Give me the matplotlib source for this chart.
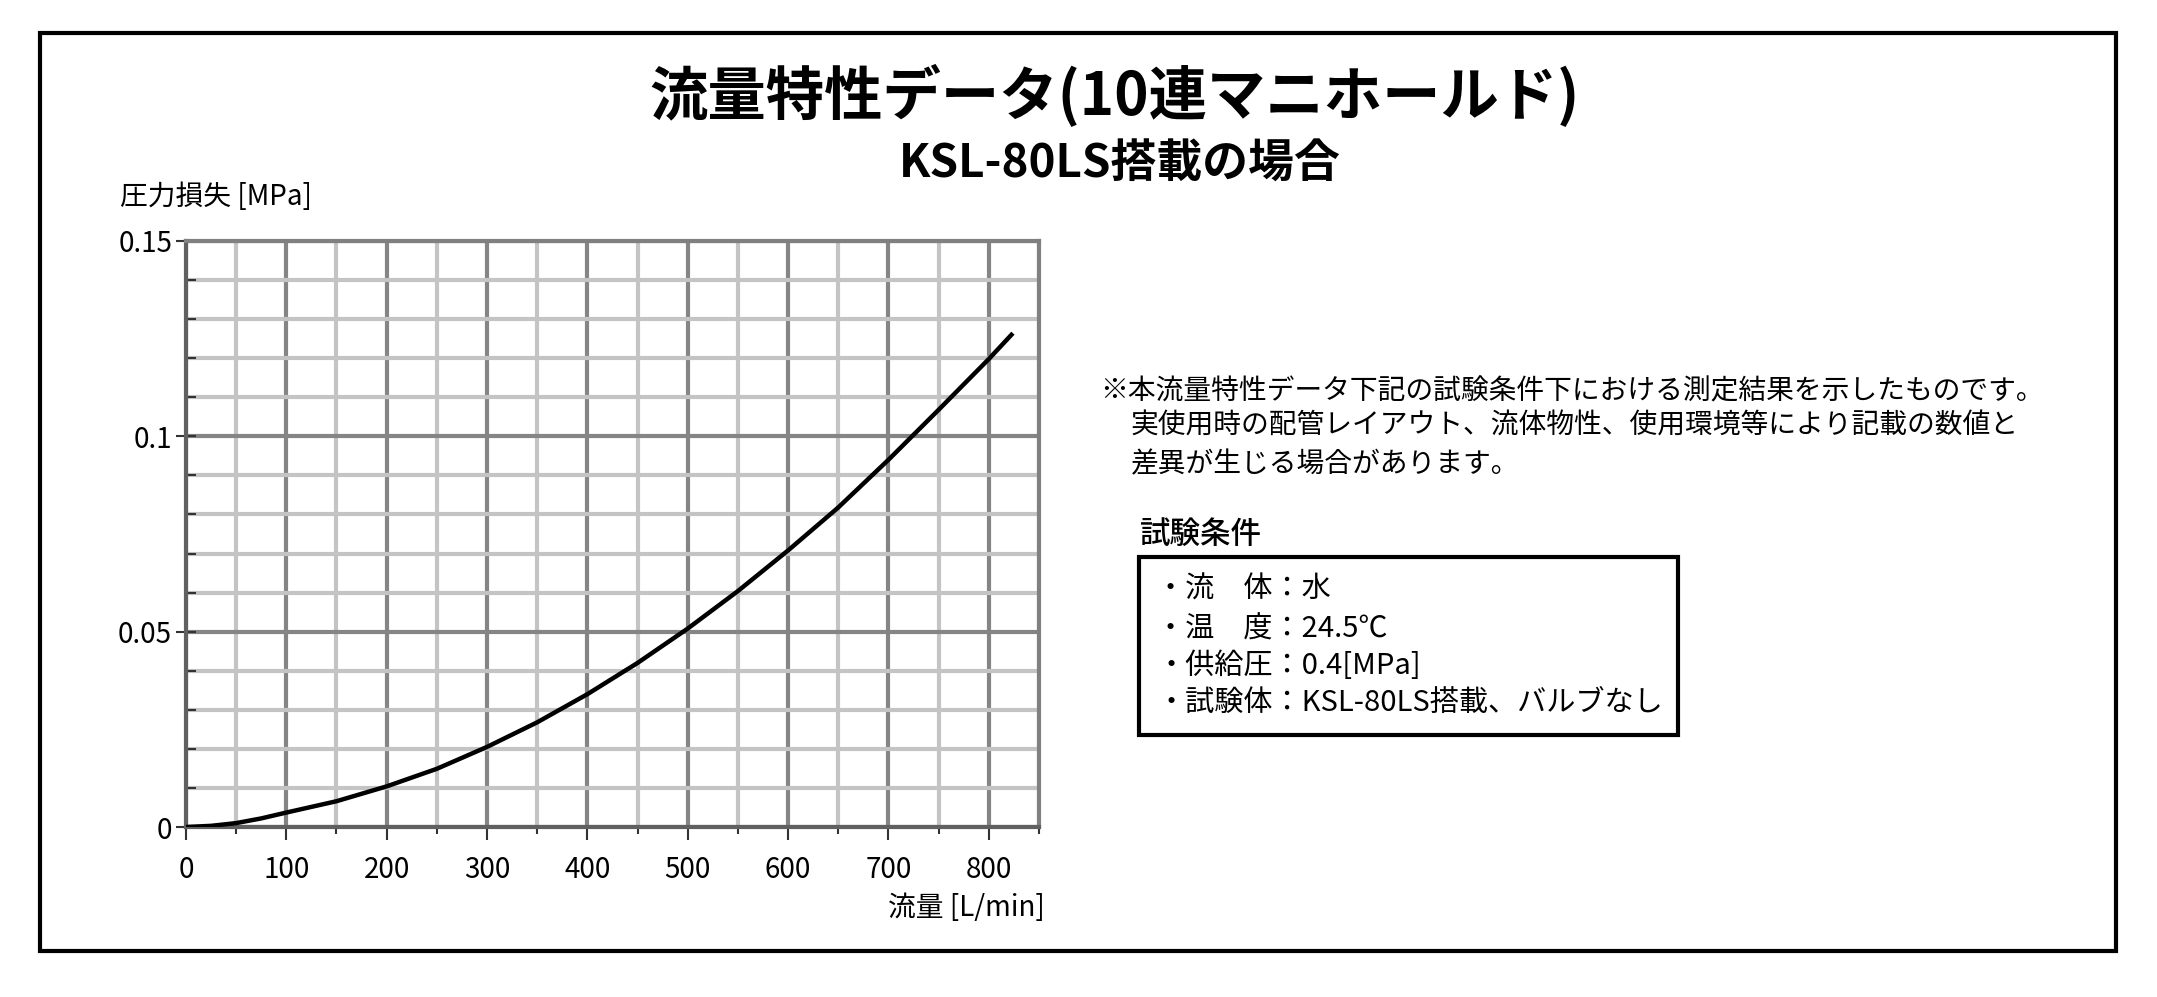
import matplotlib
matplotlib.use("Agg")
import matplotlib.pyplot as plt
from matplotlib.patches import Rectangle
from matplotlib.ticker import MultipleLocator
import numpy as np

plt.rcParams['font.family'] = ['Noto Sans CJK JP', 'DejaVu Sans']

# 流量 [L/min] と 圧力損失 [MPa]
flow = [0, 25, 50, 75, 100, 150, 200, 250, 300, 350, 400, 450, 500, 550, 600, 650, 700, 750, 800, 824]
loss = [0, 0.0003, 0.0010, 0.0022, 0.0037, 0.0066, 0.0104, 0.0149, 0.0205, 0.0268, 0.0340, 0.0420,
        0.0508, 0.0604, 0.0708, 0.0818, 0.0940, 0.1068, 0.1198, 0.1264]

xticks = [0, 100, 200, 300, 400, 500, 600, 700, 800]
yticks = [0, 0.05, 0.1, 0.15]
ytick_labels = ["0", "0.05", "0.1", "0.15"]

title1 = "流量特性データ(10連マニホールド)"
title2 = "KSL-80LS搭載の場合"
notes = ["※本流量特性データ下記の試験条件下における測定結果を示したものです。",
         "実使用時の配管レイアウト、流体物性、使用環境等により記載の数値と",
         "差異が生じる場合があります。"]
cond_title = "試験条件"
cond_items = ["・流　体：水", "・温　度：24.5℃", "・供給圧：0.4[MPa]", "・試験体：KSL-80LS搭載、バルブなし"]

fig = plt.figure(figsize=(21.57, 9.97), dpi=100)
ax = fig.add_axes([0.0862, 0.1705, 0.3955, 0.5878])

ax.plot(flow, loss, color="black", lw=3.2, zorder=5, solid_joinstyle="round", solid_capstyle="butt")
ax.set_xlim(0, 850)
ax.set_ylim(0, 0.15)

ax.set_xticks(xticks)
ax.set_yticks(yticks)
ax.set_yticklabels(ytick_labels)
ax.xaxis.set_minor_locator(MultipleLocator(50))
ax.yaxis.set_minor_locator(MultipleLocator(0.01))

ax.grid(which="minor", color="#c4c4c4", lw=3)
ax.grid(which="major", color="#858585", lw=3)
ax.set_axisbelow(True)

ax.tick_params(axis="x", which="major", labelsize=20, length=9, width=1.5, color="#333333", pad=11)
ax.tick_params(axis="x", which="minor", length=5, width=1.5, color="#333333")
ax.tick_params(axis="y", which="major", labelsize=20, length=14, width=1.5, color="#333333",
               direction="inout", pad=3)
ax.tick_params(axis="y", which="minor", length=7, width=1.5, color="#333333", direction="in")
for s in ax.spines.values():
    s.set_color("#808080")
    s.set_linewidth(3)
ax.spines["left"].set_color("#606060")
ax.spines["bottom"].set_color("#606060")

fig.text(0.0556, 0.8024, "圧力損失 [MPa]", fontsize=20, ha="left", va="center")
fig.text(0.4845, 0.0893, "流量 [L/min]", fontsize=20, ha="right", va="center")

fig.text(0.5166, 0.9037, title1, fontsize=42, fontweight="bold", ha="center", va="center")
fig.text(0.519, 0.835, title2, fontsize=33, fontweight="bold", ha="center", va="center")

fig.text(0.510, 0.6078, notes[0], fontsize=20, ha="left", va="center")
fig.text(0.5243, 0.5727, notes[1], fontsize=20, ha="left", va="center")
fig.text(0.5243, 0.5346, notes[2], fontsize=20, ha="left", va="center")

fig.text(0.5285, 0.4644, cond_title, fontsize=22, fontweight="medium", ha="left", va="center")
fig.patches.append(Rectangle((0.528, 0.2628), 0.250, 0.1785, transform=fig.transFigure,
                             fill=False, edgecolor="black", lw=3))
for y, t in zip([0.409, 0.369, 0.332, 0.295], cond_items):
    fig.text(0.536, y, t, fontsize=21, ha="left", va="center")

fig.patches.append(Rectangle((0.0185, 0.046), 0.9625, 0.921, transform=fig.transFigure,
                             fill=False, edgecolor="black", lw=3))

fig.savefig("out.png", dpi=100)
